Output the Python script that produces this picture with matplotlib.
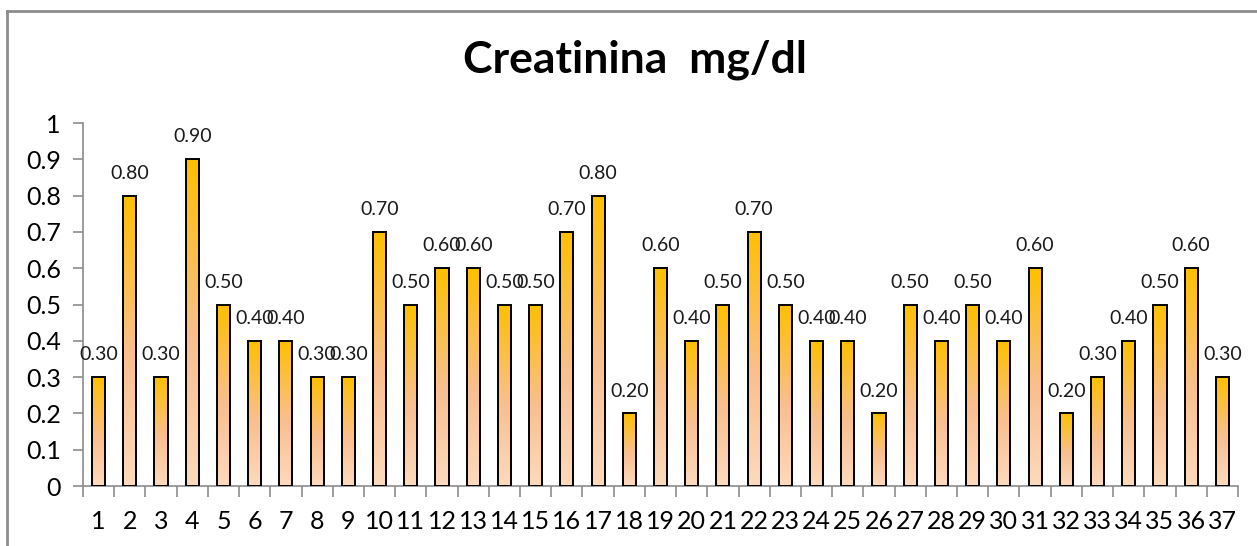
import numpy as np
import matplotlib
matplotlib.use("Agg")
import matplotlib.pyplot as plt
from matplotlib.colors import LinearSegmentedColormap
from matplotlib.lines import Line2D

plt.rcParams['font.family'] = ['Lato', 'DejaVu Sans']

# Data
categories = [str(i) for i in range(1, 38)]
values = [0.3, 0.8, 0.3, 0.9, 0.5, 0.4, 0.4, 0.3, 0.3, 0.7,
          0.5, 0.6, 0.6, 0.5, 0.5, 0.7, 0.8, 0.2, 0.6, 0.4,
          0.5, 0.7, 0.5, 0.4, 0.4, 0.2, 0.5, 0.4, 0.5, 0.4,
          0.6, 0.2, 0.3, 0.4, 0.5, 0.6, 0.3]
title = "Creatinina  mg/dl"
yticks = [0, 0.1, 0.2, 0.3, 0.4, 0.5, 0.6, 0.7, 0.8, 0.9, 1]

W, H = 1257, 546
fig = plt.figure(figsize=(W / 100, H / 100), dpi=100)
ax = fig.add_axes([83 / W, 60 / H, (1238 - 83) / W, (486 - 123) / H])

grad = LinearSegmentedColormap.from_list(
    "gold_peach", [(0.0, "#FDDABD"), (0.45, "#F9BF8F"), (1.0, "#FFC000")])
gimg = np.linspace(0, 1, 256).reshape(-1, 1)

x = np.arange(len(values))
bw = 0.42
bars = ax.bar(x, values, width=bw, facecolor="none", edgecolor="black",
              linewidth=1.4, zorder=3)
for b in bars:
    x0, y0 = b.get_x(), b.get_y()
    w, h = b.get_width(), b.get_height()
    ax.imshow(gimg, cmap=grad, origin="lower", aspect="auto",
              extent=[x0, x0 + w, y0, y0 + h], zorder=2,
              interpolation="bilinear")

for xi, v in zip(x, values):
    ax.annotate(f"{v:.2f}", (xi, v), xytext=(0, 10), textcoords="offset points",
                ha="center", va="bottom", fontsize=14, color="#1a1a1a")

ax.set_xlim(-0.5, len(values) - 0.5)
ax.set_ylim(0, 1)
ax.set_yticks(yticks)
ax.set_yticklabels([f"{t:g}" for t in yticks])
ax.set_xticks(x)
ax.set_xticklabels(categories)
ax.set_xticks(np.arange(-0.5, len(values)), minor=True)
ax.tick_params(axis="x", which="major", length=0, pad=17, labelsize=18)
ax.tick_params(axis="x", which="minor", length=8, color="#8c8c8c", width=1.2)
ax.tick_params(axis="y", length=7, color="#8c8c8c", width=1.2, pad=9,
               labelsize=18)

for side in ["top", "right"]:
    ax.spines[side].set_visible(False)
for side in ["left", "bottom"]:
    ax.spines[side].set_color("#8c8c8c")
    ax.spines[side].set_linewidth(1.2)

fig.text(635 / W, 1 - 60 / H, title, ha="center", va="center",
         fontsize=32, fontweight="bold")

# chart area border (left and top edges)
fig.add_artist(Line2D([6.5 / W, 6.5 / W], [0, 1 - 11 / H], transform=fig.transFigure,
                      color="#8c8c8c", linewidth=2))
fig.add_artist(Line2D([6.5 / W, 1], [1 - 11 / H, 1 - 11 / H], transform=fig.transFigure,
                      color="#8c8c8c", linewidth=2))

fig.savefig("out.png", dpi=100)
